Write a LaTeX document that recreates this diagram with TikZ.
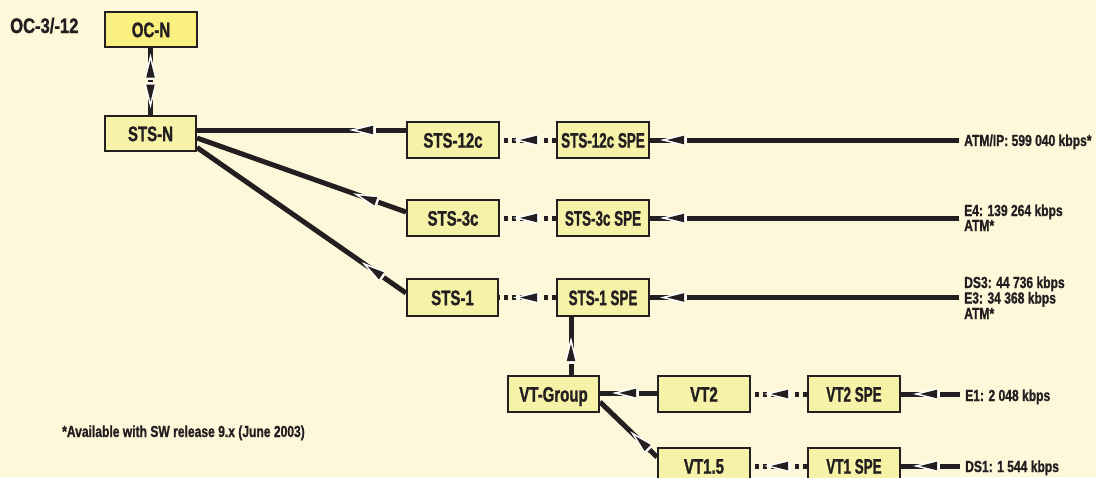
\documentclass[tikz,border=0pt]{standalone}
\usepackage{fontspec}
\setmainfont{Liberation Sans}
\newfontfamily\boxfont[FakeStretch=0.715,FakeBold=1.2]{Liberation Sans}
\newfontfamily\spefont[FakeStretch=0.64,FakeBold=1.2]{Liberation Sans}
\newfontfamily\labfont[FakeStretch=0.755,FakeBold=1]{Liberation Sans}
\newfontfamily\ocfont[FakeStretch=0.79,FakeBold=1.2]{Liberation Sans}
\usetikzlibrary{decorations.markings}
\pgfdeclarelayer{back}
\pgfdeclarelayer{lines}
\pgfsetlayers{back,lines,main}
\definecolor{bgc}{RGB}{254,248,218}
\definecolor{boxfill}{RGB}{246,242,168}
\definecolor{ocfill}{RGB}{250,240,128}
\definecolor{ink}{RGB}{35,31,32}
\newcommand\haloarrow{%
  \fill[white] (-2.5,-2.7) rectangle (0.3,2.7);
  \fill[white] (0,-5.8) -- (24,0) -- (0,5.8) -- cycle;
  \fill[ink] (0,-4.3) -- (17,0) -- (0,4.3) -- cycle;}
\tikzset{
  box/.style={draw=ink, line width=2pt, fill=boxfill, minimum width=92pt,
    minimum height=36pt, inner sep=0pt, text height=15.3pt, text depth=0pt,
    text=ink, font=\boxfont\bfseries\fontsize{21}{22}\selectfont},
  spebox/.style={box, font=\spefont\bfseries\fontsize{21}{22}\selectfont},
  conn/.style={draw=ink, line width=5pt},
  dotconn/.style={draw=ink, line width=5pt, dash pattern=on 4.5pt off 3.5pt},
  arr/.style={postaction={decorate, decoration={markings,
    mark=at position #1 with {\haloarrow}}}},
  revarr/.style={postaction={decorate, decoration={markings,
    mark=at position #1 with {\begin{scope}[xscale=-1]\haloarrow\end{scope}}}}},
  lab/.style={anchor=base west, inner sep=0pt, text=ink,
    font=\labfont\bfseries\fontsize{16}{16}\selectfont}
}
\begin{document}
\begin{tikzpicture}[x=1pt,y=-1pt]
\useasboundingbox (0,0) rectangle (1096,477);
\begin{pgfonlayer}{back}
\fill[bgc] (0,0) rectangle (1096,477);
\end{pgfonlayer}
\begin{scope}
\clip (0,0) rectangle (1096,477);
\node[box, fill=ocfill, minimum height=35pt] (ocn) at (151,29.5) {OC-N};
\node[box, minimum width=91pt, minimum height=35pt] (stsn) at (150.5,133.5) {STS-N};
\node[box] (sts12) at (453,140) {STS-12c};
\node[spebox] (spe12) at (603,140) {STS-12c SPE};
\node[box] (sts3) at (453,218) {STS-3c};
\node[spebox] (spe3) at (603,218) {STS-3c SPE};
\node[box, minimum width=91pt, minimum height=37pt] (sts1) at (452.5,297.5) {STS-1};
\node[spebox, minimum height=37pt] (spe1) at (603,297.5) {STS-1 SPE};
\node[box, minimum width=91pt] (vtg) at (553.5,394) {VT-Group};
\node[box] (vt2) at (704,394) {VT2};
\node[spebox] (vt2spe) at (854,394) {VT2 SPE};
\node[box] (vt15) at (704,466) {VT1.5};
\node[spebox] (vt1spe) at (854,466) {VT1 SPE};
\end{scope}
\coordinate (l12) at (959,140);
\coordinate (l3) at (959,218);
\coordinate (l1) at (959,297.5);
\coordinate (le1) at (960,394);
\coordinate (lds1) at (960,466);
\begin{pgfonlayer}{lines}
\draw[conn, arr=37.5pt, revarr=30.5pt] (stsn.north) -- (stsn.north |- ocn.south);
\draw[conn, arr=33pt] ([yshift=10pt]sts12.west) -- ([yshift=3.5pt]stsn.east);
\draw[conn, arr=32pt] ([yshift=6pt]sts3.west) -- ([yshift=-4.5pt]stsn.east);
\draw[conn, arr=30pt] ([yshift=4.5pt]sts1.west) -- ([yshift=-14pt]stsn.east);
\draw[dotconn, arr=19pt] (spe12.west) -- (sts12.east);
\draw[dotconn, arr=19pt] (spe3.west) -- (sts3.east);
\draw[dotconn, arr=19pt] (spe1.west) -- (sts1.east);
\draw[conn, arr=275pt] (l12) -- (spe12.east);
\draw[conn, arr=275pt] (l3) -- (spe3.east);
\draw[conn, arr=275pt] (l1) -- (spe1.east);
\draw[conn, arr=14pt] ([xshift=17.5pt]vtg.north) -- ([xshift=-32pt]spe1.south);
\draw[conn, arr=21pt] ([yshift=1pt]vt2.west) -- ([yshift=1pt]vtg.east);
\draw[conn, arr=13pt] ([yshift=9pt]vt15.west) -- ([yshift=-8pt]vtg.east);
\draw[dotconn, arr=19pt] (vt2spe.west) -- (vt2.east);
\draw[dotconn, arr=19pt] (vt1spe.west) -- (vt15.east);
\draw[conn, arr=23pt] (le1) -- (vt2spe.east);
\draw[conn, arr=23pt] (lds1) -- (vt1spe.east);
\end{pgfonlayer}
\node[lab] (t12) at (964,146) {ATM/IP: 599 040 kbps*};
\node[lab] (t3a) at (964,216) {E4: 139 264 kbps};
\node[lab] (t3b) at (964,231) {ATM*};
\node[lab] (t1a) at (964,288) {DS3: 44 736 kbps};
\node[lab] (t1b) at (964,303.5) {E3: 34 368 kbps};
\node[lab] (t1c) at (964,319) {ATM*};
\node[lab] (te1) at (965,401) {E1: 2 048 kbps};
\node[lab] (tds1) at (965,472) {DS1: 1 544 kbps};
\node[lab] (foot) at (62,437) {*Available with SW release 9.x (June 2003)};
\node[lab, font=\ocfont\bfseries\fontsize{21}{22}\selectfont] (oc) at (10,33) {OC-3/-12};
\end{tikzpicture}
\end{document}
